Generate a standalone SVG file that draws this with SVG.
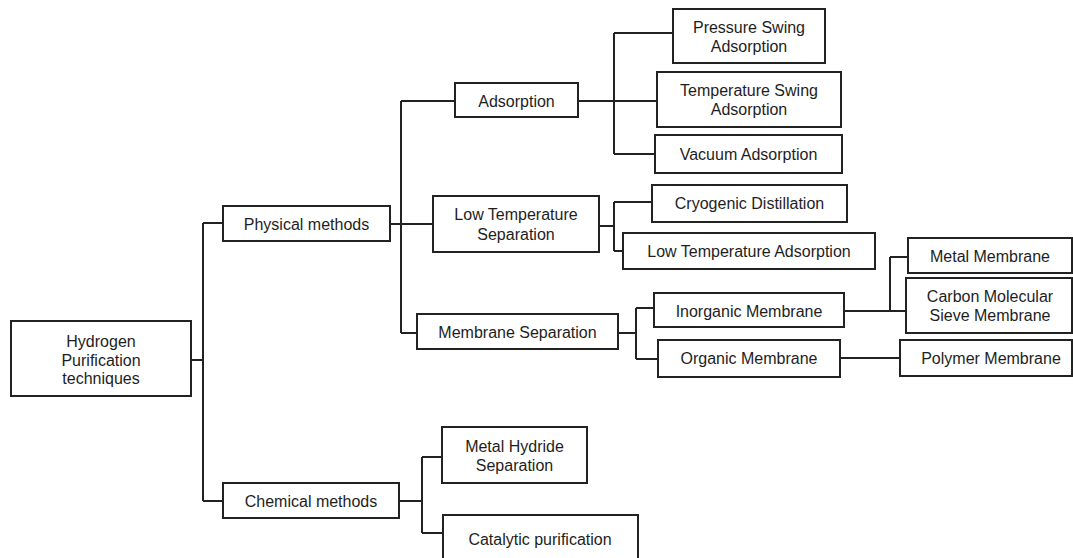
<svg xmlns="http://www.w3.org/2000/svg" width="1073" height="558" viewBox="0 0 1073 558">
<style>
.box{fill:#fff;stroke:#222;stroke-width:2}
.t{font-family:"Liberation Sans",Arial,sans-serif;font-size:16px;fill:#1e1e1e;text-anchor:middle;dominant-baseline:central}
.c{fill:none;stroke:#222;stroke-width:2}
</style>
<rect width="1073" height="558" fill="#fff"/>
<g id="connectors">
<path class="c" d="M191,360H203M203,223V501M203,223H223M203,501H223"/>
<path class="c" d="M390,224H401M401,101V333M401,101H455M401,224H433M401,333H417"/>
<path class="c" d="M578,101H614M614,33V154M614,33H673M614,101H657M614,154H655"/>
<path class="c" d="M599,226H614M614,202V251M614,202H652M614,251H623"/>
<path class="c" d="M618,333H636M636,308V359M636,308H654M636,359H658"/>
<path class="c" d="M844,311H890M890,257V311M890,257H908M890,311H906"/>
<path class="c" d="M840,358H900"/>
<path class="c" d="M399,501H422M422,457V533M422,457H442M422,533H443"/>
</g>
<g id="hydrogen"><rect class="box" x="11" y="321" width="180" height="75"/><text class="t" x="101" y="341">Hydrogen</text><text class="t" x="101" y="360">Purification</text><text class="t" x="101" y="378">techniques</text></g>
<g id="physical"><rect class="box" x="223" y="206" width="167" height="35"/><text class="t" x="306.5" y="224">Physical methods</text></g>
<g id="chemical"><rect class="box" x="223" y="483" width="176" height="35"/><text class="t" x="311" y="501">Chemical methods</text></g>
<g id="adsorption"><rect class="box" x="455" y="83" width="123" height="34"/><text class="t" x="516.5" y="101">Adsorption</text></g>
<g id="lowtempsep"><rect class="box" x="433" y="196" width="166" height="56"/><text class="t" x="516" y="214">Low Temperature</text><text class="t" x="516" y="234">Separation</text></g>
<g id="membranesep"><rect class="box" x="417" y="314" width="201" height="35"/><text class="t" x="517.5" y="332">Membrane Separation</text></g>
<g id="psa"><rect class="box" x="673" y="9" width="152" height="54"/><text class="t" x="749" y="27">Pressure Swing</text><text class="t" x="749" y="46">Adsorption</text></g>
<g id="tsa"><rect class="box" x="657" y="72" width="184" height="55"/><text class="t" x="749" y="90">Temperature Swing</text><text class="t" x="749" y="109">Adsorption</text></g>
<g id="vacuum"><rect class="box" x="655" y="135" width="187" height="38"/><text class="t" x="748.5" y="154">Vacuum Adsorption</text></g>
<g id="cryogenic"><rect class="box" x="652" y="185" width="195" height="37"/><text class="t" x="749.5" y="203.5">Cryogenic Distillation</text></g>
<g id="lowtempads"><rect class="box" x="623" y="233" width="252" height="36"/><text class="t" x="749" y="251">Low Temperature Adsorption</text></g>
<g id="inorganic"><rect class="box" x="654" y="293" width="190" height="34"/><text class="t" x="749" y="311">Inorganic Membrane</text></g>
<g id="organic"><rect class="box" x="658" y="340" width="182" height="37"/><text class="t" x="749" y="358.5">Organic Membrane</text></g>
<g id="metalmembrane"><rect class="box" x="908" y="238" width="164" height="35"/><text class="t" x="990" y="256">Metal Membrane</text></g>
<g id="carbon"><rect class="box" x="906" y="278" width="166" height="55"/><text class="t" x="990" y="296">Carbon Molecular</text><text class="t" x="990" y="315">Sieve Membrane</text></g>
<g id="polymer"><rect class="box" x="900" y="340" width="172" height="36"/><text class="t" x="991" y="358">Polymer Membrane</text></g>
<g id="metalhydride"><rect class="box" x="442" y="427" width="145" height="56"/><text class="t" x="514.5" y="446">Metal Hydride</text><text class="t" x="514.5" y="465">Separation</text></g>
<g id="catalytic"><rect class="box" x="443" y="515" width="195" height="50"/><text class="t" x="540" y="539">Catalytic purification</text></g>
</svg>
